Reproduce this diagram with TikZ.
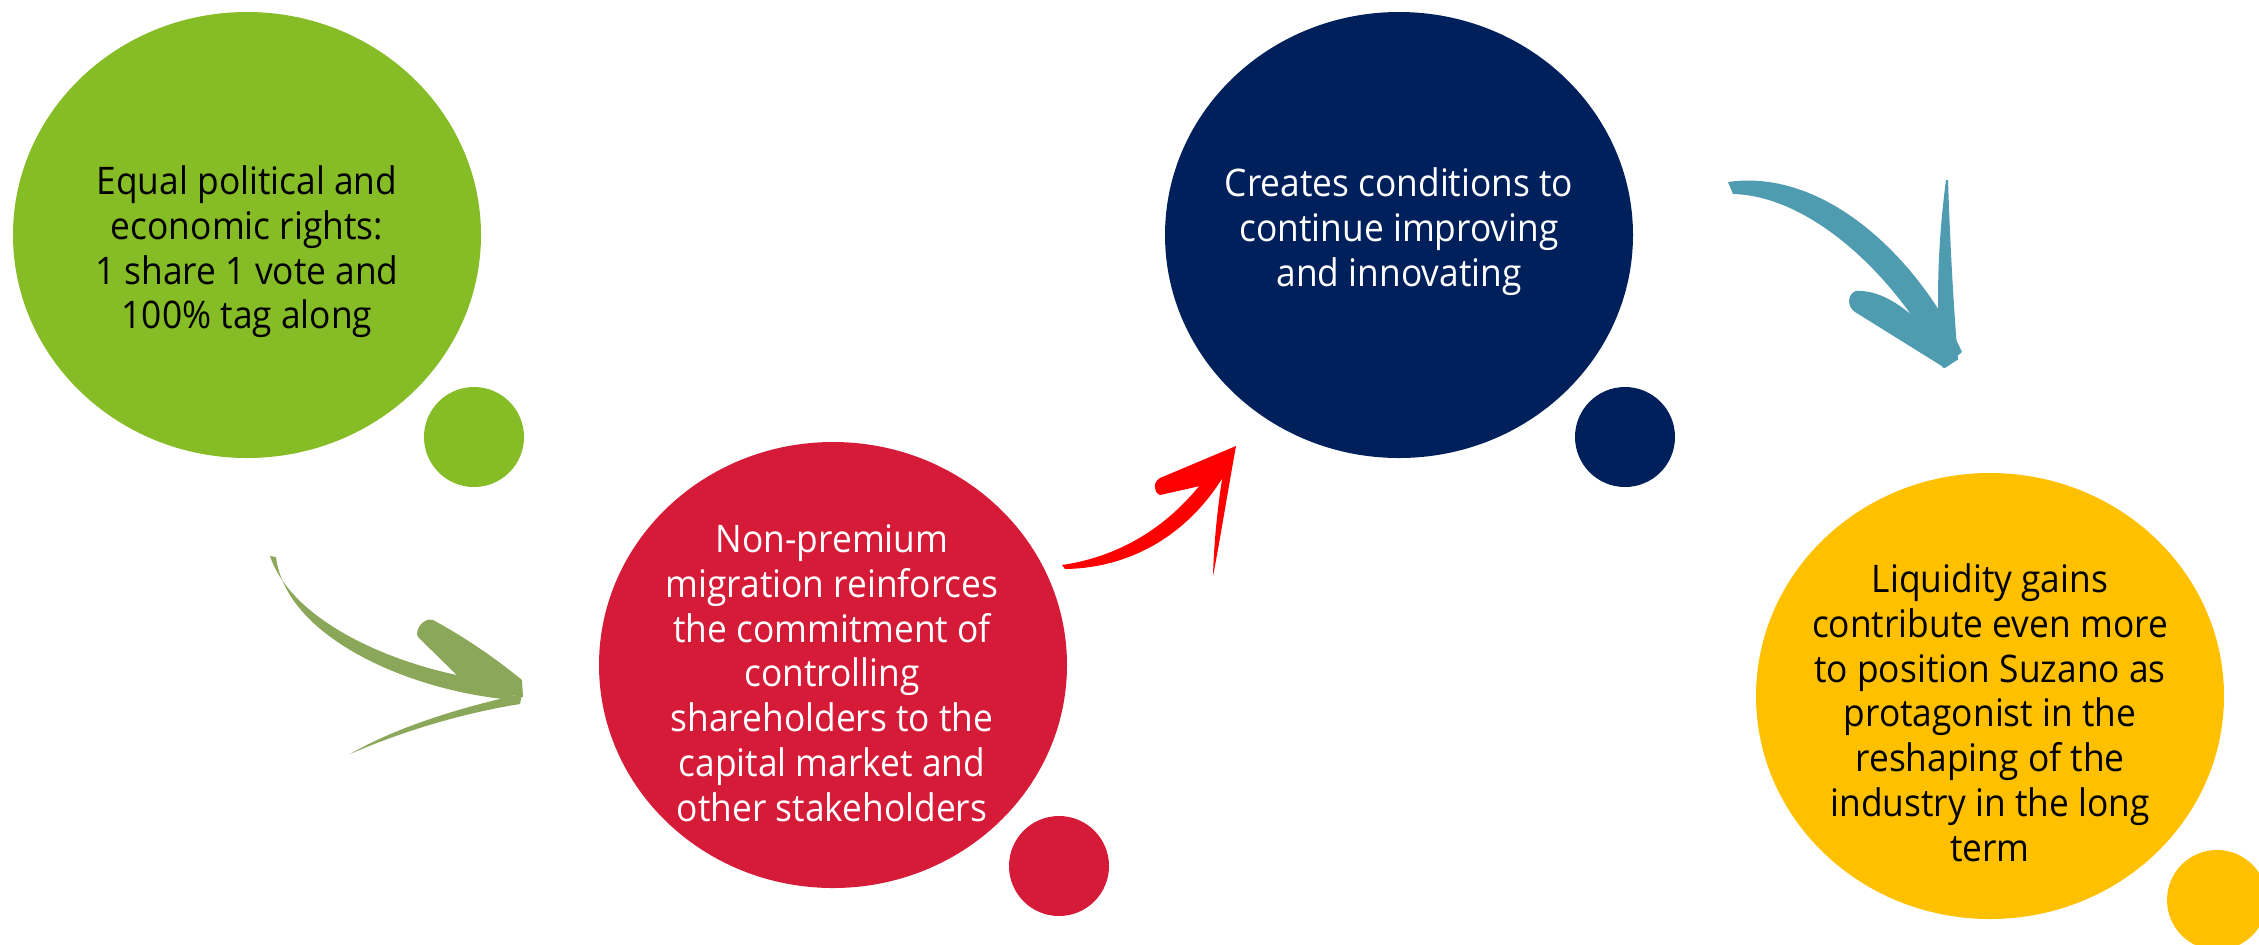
\documentclass[tikz,border=0pt]{standalone}
\usepackage{fontspec}
\setmainfont{Open Sans}[FakeStretch=0.93]
\usetikzlibrary{shapes.geometric}
\definecolor{cgreen}{RGB}{134,188,37}
\definecolor{cred}{RGB}{213,27,56}
\definecolor{cnavy}{RGB}{0,32,91}
\definecolor{cyellow}{RGB}{255,192,0}
\definecolor{agreen}{RGB}{139,167,90}
\definecolor{ared}{RGB}{255,0,0}
\definecolor{ateal}{RGB}{79,155,176}
\begin{document}
\begin{tikzpicture}[x=0.5pt,y=-0.5pt,
  bubble/.style={ellipse, inner sep=0pt, draw=none, minimum width=234pt, minimum height=223pt},
  dot/.style={ellipse, inner sep=0pt, draw=none, minimum width=50pt, minimum height=50pt},
  txt/.style={anchor=north, inner sep=0pt, align=center, font=\fontsize{19pt}{22.4pt}\selectfont}]
\clip (0,0) rectangle (2259,944);
% bubbles
\node[bubble, fill=cgreen] (g) at (247,235) {};
\node[dot, fill=cgreen] (gs) at (474,437) {};
\node[bubble, fill=cred] (r) at (833,665) {};
\node[dot, fill=cred] (rs) at (1059,866) {};
\node[bubble, fill=cnavy] (n) at (1399,235) {};
\node[dot, fill=cnavy] (ns) at (1625,437) {};
\node[bubble, fill=cyellow] (y) at (1990,696) {};
\node[dot, fill=cyellow] (ys) at (2217,900) {};
% texts
\node[txt, text=black] (gt) at (247,164) {\rule{0pt}{15pt}Equal political and\\economic rights:\\1 share 1 vote and\\100\% tag along};
\node[txt, text=white] (rt) at (832,522) {\rule{0pt}{15pt}Non-premium\\migration reinforces\\the commitment of\\controlling\\shareholders to the\\capital market and\\other stakeholders};
\node[txt, text=white] (nt) at (1399,166) {\rule{0pt}{15pt}Creates conditions to\\continue improving\\and innovating};
\node[txt, text=black] (yt) at (1990,562) {\rule{0pt}{15pt}Liquidity gains\\contribute even more\\to position Suzano as\\protagonist in the\\reshaping of the\\industry in the long\\term};
% green arrow
\fill[agreen] (270,556) .. controls (294,628) and (416,676) .. (512,683) -- (514,700) .. controls (412,692) and (286,638) .. (276,557) -- cycle;
\fill[agreen] (433,620) .. controls (470,640) and (500,662) .. (522,680) -- (523,697) -- (470,688) -- (418,637) .. controls (414,630) and (424,617) .. (433,620) -- cycle;
\fill[agreen] (522,694) .. controls (470,705) and (400,725) .. (350,754) .. controls (410,728) and (470,712) .. (520,704) -- cycle;
% red arrow
\fill[ared] (1062,565) .. controls (1130,555) and (1184,516) .. (1221,455) -- (1231,463) .. controls (1196,530) and (1135,568) .. (1065,569) -- cycle;
\fill[ared] (1236,446) -- (1160,478) .. controls (1153,482) and (1153,492) .. (1160,495) -- (1200,486) -- (1225,462) -- cycle;
\fill[ared] (1226,455) .. controls (1218,500) and (1214,540) .. (1213,576) .. controls (1220,540) and (1228,490) .. (1236,446) -- cycle;
% teal arrow
\fill[ateal] (1728,182) .. controls (1825,168) and (1918,258) .. (1962,352) -- (1943,368) .. controls (1902,284) and (1815,196) .. (1733,194) -- cycle;
\fill[ateal] (1856,291) .. controls (1875,290) and (1895,300) .. (1915,318) -- (1957,360) -- (1945,368) -- (1855,312) .. controls (1846,306) and (1848,293) .. (1856,291) -- cycle;
\fill[ateal] (1946,180) .. controls (1938,240) and (1936,300) .. (1940,360) -- (1958,360) .. controls (1953,300) and (1950,240) .. (1948,180) -- cycle;
\end{tikzpicture}
\end{document}
